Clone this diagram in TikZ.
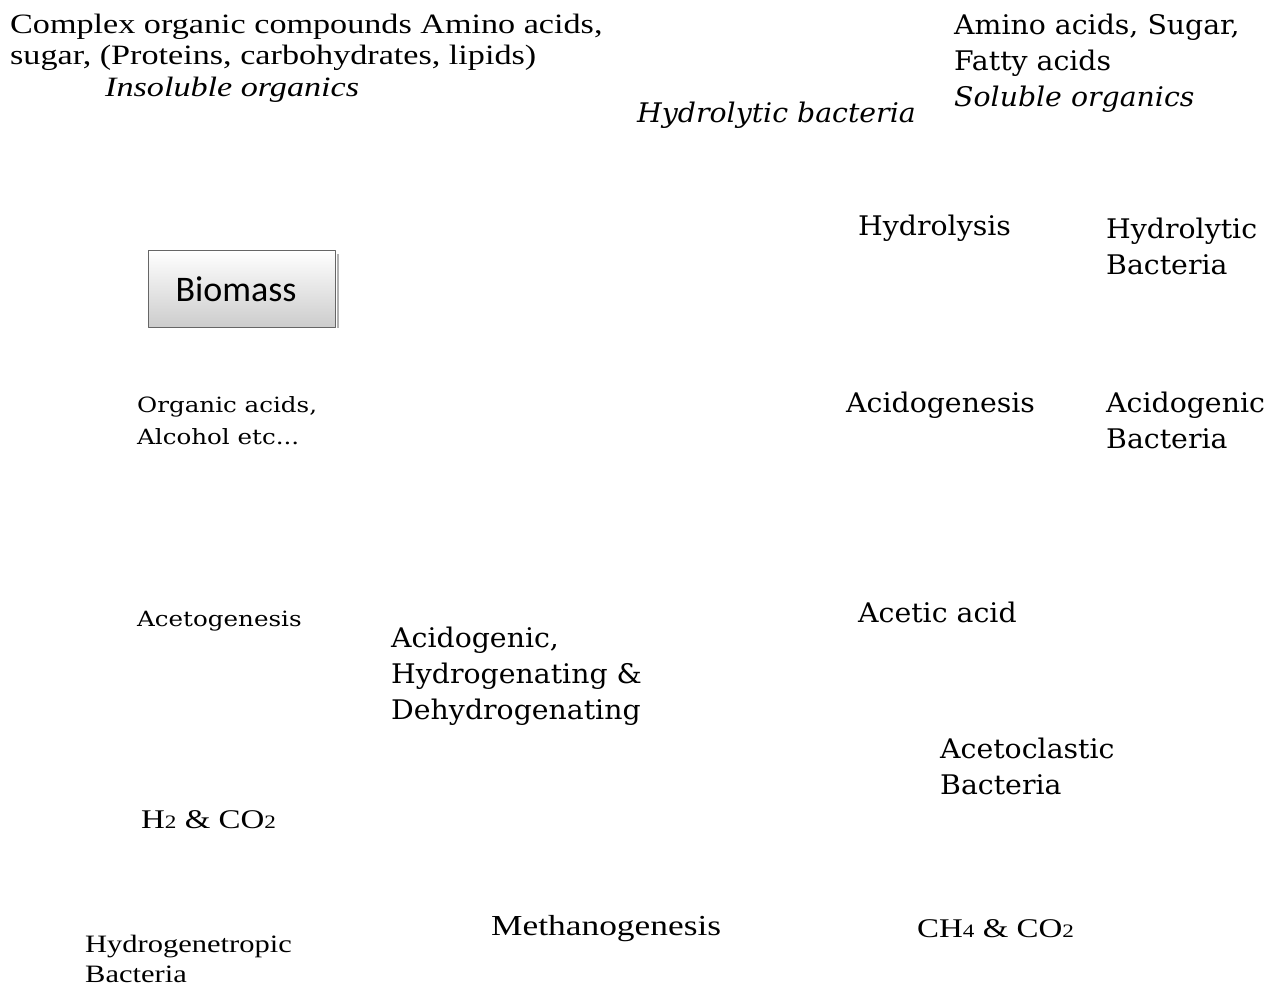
\documentclass[tikz,border=0pt]{standalone}
\usepackage{fontspec}
\setmainfont{DejaVu Serif}
\newfontfamily\bkmain[FakeStretch=1.05]{DejaVu Serif}
\newfontfamily\bksmall[FakeStretch=1.17]{DejaVu Serif}
\newfontfamily\cambr[FakeStretch=1.22]{Liberation Serif}
\newfontfamily\calib{Carlito}
\usetikzlibrary{positioning}

\begin{document}
\begin{tikzpicture}[x=1pt,y=-1pt,line join=round,
	lbl/.style={anchor=west,inner sep=0pt,align=left,font=\bkmain\fontsize{27}{36}\selectfont},
	sml/.style={anchor=west,inner sep=0pt,align=left,font=\bksmall\fontsize{21}{32}\selectfont},
	cmb/.style={anchor=west,inner sep=0pt,align=left,font=\cambr\fontsize{27}{31}\selectfont}]
		\useasboundingbox (0,0) rectangle (1271,987);
		% top row
		\node[cmb,font=\cambr\fontsize{28}{31.5}\selectfont] (insol) at (10,58) {Complex organic compounds Amino acids,\\ sugar, (Proteins, carbohydrates, lipids)\\ \hspace*{95pt}\itshape Insoluble organics};
		\node[lbl] (sol) at (954,63) {Amino acids, Sugar,\\ Fatty acids\\ \itshape Soluble organics};
		\node[lbl,font=\bkmain\fontsize{27}{36}\selectfont\itshape] (hydb) at (637,115) {Hydrolytic bacteria};
		% biomass box
		\node[draw=gray!80!black,line width=1.5pt,minimum width=187pt,minimum height=77pt,inner sep=0pt,
			top color=white,bottom color=gray!40] (bio) at (242,289) {};
		\node[font=\calib\fontsize{36}{40}\selectfont,inner sep=0pt] (biotxt) at ([xshift=-6pt]bio.center) {Biomass};
		\draw[gray!60,line width=2pt] ([xshift=2pt,yshift=-4pt]bio.north east) -- ([xshift=2pt]bio.south east);
		% stages
		\node[lbl] (hyd) at (858,228) {Hydrolysis};
		\node[lbl] (hydbac) at (1106,246) {Hydrolytic\\ Bacteria};
		\node[sml] (orgac) at (137,421) {Organic acids,\\ Alcohol etc...};
		\node[lbl] (acid) at (846,405) {Acidogenesis};
		\node[lbl] (acidbac) at (1106,420) {Acidogenic\\ Bacteria};
		\node[sml] (aceto) at (137,621) {Acetogenesis};
		\node[lbl] (ahd) at (391,676) {Acidogenic,\\ Hydrogenating \&\\ Dehydrogenating};
		\node[lbl] (acet) at (858,612) {Acetic acid};
		\node[lbl] (aclbac) at (940,766) {Acetoclastic\\ Bacteria};
		% bottom row
		\node[cmb] (hco) at (141,820) {H{\fontsize{19}{19}\selectfont 2} \& CO{\fontsize{19}{19}\selectfont 2}};
		\node[cmb,font=\cambr\fontsize{29}{31}\selectfont] (meth) at (491,929) {Methanogenesis};
		\node[cmb] (cho) at (917,929) {CH{\fontsize{19}{19}\selectfont 4} \& CO{\fontsize{19}{19}\selectfont 2}};
		\node[cmb,font=\cambr\fontsize{25}{30}\selectfont] (hgbac) at (85,959) {Hydrogenetropic\\ Bacteria};
\end{tikzpicture}
\end{document}
